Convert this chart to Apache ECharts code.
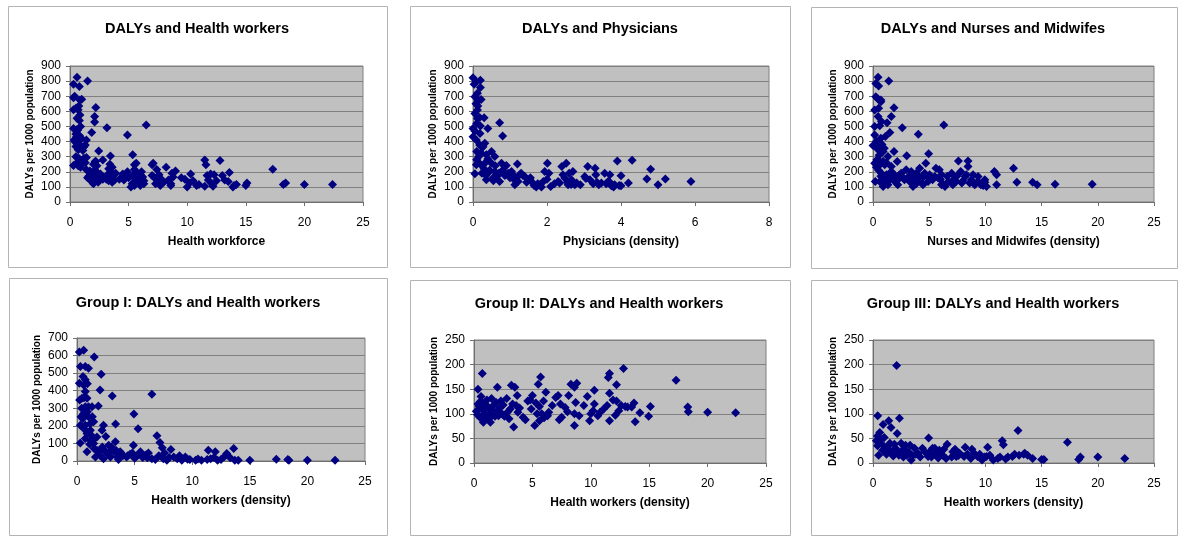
<!DOCTYPE html>
<html>
<head>
<meta charset="utf-8">
<script src="https://cdn.jsdelivr.net/npm/echarts@6/dist/echarts.min.js"></script>
<style>
html,body{margin:0;padding:0;background:#fff;}
#c{width:1200px;height:536px;}
</style>
</head>
<body>
<div id="c"></div>
<script>
// ---------- DATA ----------
const titles = [
  'DALYs and Health workers',
  'DALYs and Physicians',
  'DALYs and Nurses and Midwifes',
  'Group I: DALYs and Health workers',
  'Group II: DALYs and Health workers',
  'Group III: DALYs and Health workers'
];
const xNames = [
  'Health workforce',
  'Physicians (density)',
  'Nurses and Midwifes (density)',
  'Health workers (density)',
  'Health workers (density)',
  'Health workers (density)'
];
const yName = 'DALYs per 1000 population';
const xMaxes = [25, 8, 25, 25, 25, 25];
const xSteps = [5, 2, 5, 5, 5, 5];
const yMaxes = [900, 900, 900, 700, 250, 250];
const ySteps = [100, 100, 100, 100, 50, 50];

// DALYs (total) vs health workforce
const totalVsWorkforce = [
[0.3,780],[0.6,825],[0.8,765],[1.5,800],[0.4,700],[0.3,690],[0.85,675],[1.0,680],
[0.7,610],[0.3,610],[0.85,575],[0.6,555],[0.8,540],[0.5,620],[0.75,635],
[2.2,625],[2.1,565],[2.1,530],[3.15,492],[0.9,500],[0.3,487],[0.65,475],[1.85,460],
[4.9,443],[6.5,510],[0.55,430],[0.8,410],[0.35,410],[0.5,367],[1.0,367],[1.3,378],[1.4,410],[0.7,345],
[2.45,338],[5.35,312],[3.45,305],[0.3,242],[0.85,257],[0.75,290],[1.4,294],[1.05,278],
[2.15,268],[2.8,278],[1.4,213],[5.65,257],[5.5,246],[7.1,257],[7.0,246],[11.5,278],[11.6,246],[12.8,274],
[17.3,217],[13.6,195],[13.0,176],
[0.4,400],[0.5,450],[0.6,480],[0.7,380],[0.8,440],[0.9,360],[1.0,420],[1.1,340],[1.2,365],
[0.6,260],[0.7,240],[0.5,300],[1.0,250],[1.2,290],[0.9,230],[1.3,260],[2.0,250],[2.2,270],
[1.6,170],[1.7,150],[1.8,190],[1.9,130],[2.0,160],[2.1,140],[2.2,200],[2.3,175],[2.4,130],[2.5,155],
[1.7,205],[2.0,120],[2.3,240],[2.6,185],[2.7,165],[2.8,150],[1.5,160],[2.1,210],[2.4,190],
[3.0,165],[3.2,180],[3.3,140],[3.4,250],[3.5,200],[3.6,130],[3.7,175],[3.5,160],[3.3,220],[3.8,145],[3.1,150],[3.6,230],[3.9,190],
[4.2,150],[4.4,160],[4.6,145],[4.8,175],[4.9,200],[5.0,160],[4.5,185],[4.7,165],
[5.2,100],[5.3,120],[5.4,180],[5.5,110],[5.6,150],[5.7,195],[5.8,170],[5.9,130],[6.0,110],[6.1,200],[6.2,165],[6.3,140],[5.5,215],[6.0,180],[6.3,120],
[7.0,175],[7.2,160],[7.3,120],[7.4,215],[7.5,140],[7.6,180],[7.7,110],[7.8,150],[8.0,130],[8.2,230],[8.4,145],[8.6,110],[8.7,190],[8.8,165],[9.0,205],[8.6,120],
[9.5,160],[9.8,150],[10.0,100],[10.2,125],[10.3,185],[10.5,140],[10.8,110],[11.0,115],
[11.5,105],[11.7,175],[11.8,145],[12.0,185],[12.1,120],[12.3,180],[12.5,140],[12.2,105],[13.2,145],[13.5,135],
[13.9,100],[14.2,115],[14.0,110],[15.0,110],[15.1,125],
[18.2,115],[18.4,125],[20.0,115],[22.4,115]
];

// DALYs (total) vs physicians density
const totalVsPhysicians = [
[0,823],[0.09,795],[0.2,757],[0.05,696],[0.15,674],[0.22,678],[0.05,586],[0.12,608],[0.13,635],
[0.3,557],[0.12,553],[0.72,525],[0.4,487],[0.2,503],[0,487],[0.8,437],[0.19,454],
[0,432],[0.09,410],[0.18,377],[0.27,367],[0.32,388],[0.5,334],[0.1,334],[0.23,323],[0.36,312],[0.59,301],
[0.09,246],[0.32,257],[0.5,257],[0.77,257],[0.9,241],[1.2,252],
[0.24,191],[0.05,187],[0.4,191],[0.59,202],[0.7,191],[0.36,147],[0.54,158],[0.72,136],[0.86,176],
[1.04,202],[1.13,169],[1.22,136],[1.3,191],[1.4,169],[1.53,147],[1.62,125],[1.71,99],[1.8,114],[1.9,136],
[1.94,202],[2.01,257],[2.05,191],[2.1,103],[1.13,114],[1.26,180],
[2.34,125],[2.4,235],[2.43,180],[2.48,158],[2.52,257],[2.57,114],[2.66,147],[2.7,202],[2.75,114],[2.6,191],[2.9,114],
[3.02,169],[3.1,235],[3.16,147],[3.3,224],[3.32,180],[3.4,114],[3.47,125],[3.56,191],[3.65,136],[3.7,180],[3.74,107],[3.83,114],
[3.9,272],[4.0,173],[4.0,107],[4.2,125],[4.3,276],[4.7,152],[4.8,217],[5.0,114],[5.2,152],[5.89,136],
[0.1,280],[0.15,300],[0.2,250],[0.3,220],[0.45,210],[0.6,240],[0.65,170],[0.8,210],[0.95,190],[1.0,160],
[0.35,175],[0.55,140],[0.4,285],[0.25,360],[0.05,470],[0.1,520],[0.18,560],[0.08,650],[0.12,720],[0.03,780],[0.2,805],
[1.1,150],[1.35,175],[1.45,130],[1.55,160],[1.65,110],[1.75,120],[1.85,100],[2.0,150],[2.2,120],[2.3,135],
[2.55,130],[2.65,115],[2.8,125],[3.05,155],[3.25,120],[3.35,130],[3.6,120],[3.7,130],[3.8,100],[3.95,110]
];

// DALYs (total) vs nurses and midwifes density
const totalVsNurses = [
[0.45,825],[0.25,785],[0.5,767],[1.4,800],[0.25,697],[0.45,681],[0.7,675],
[0.15,609],[0.5,620],[0.7,664],[0.45,565],[0.75,532],[1.87,624],[1.63,565],[1.25,525],
[0.15,499],[0.6,505],[2.6,492],[1.5,460],[4.03,449],[6.3,510],
[0.15,444],[0.7,422],[1.1,433],[0.5,367],[0,374],[1.0,356],[0.9,334],
[1.87,334],[4.95,319],[3.0,306],[1.33,301],
[0.15,257],[0.45,279],[1.04,246],[1.63,235],[2.16,268],[4.7,257],[7.6,272],[8.45,272],[8.45,235],[12.5,224],[10.8,202],
[0.6,136],[1.04,136],[1.48,147],[1.93,136],[2.37,158],[2.8,147],[3.26,136],[3.56,103],[3.85,121],[4.15,147],[4.45,114],
[4.9,136],[5.3,147],[5.8,158],[6.1,114],[6.4,103],[6.7,136],[7.1,114],[7.4,136],[7.9,125],[8.2,169],[8.75,147],
[9.05,114],[9.35,136],[9.6,114],[10.1,103],[9.95,130],[11.0,114],
[0.75,191],[1.2,180],[1.63,202],[1.9,180],[2.5,191],[2.95,213],[3.4,202],[3.85,191],[4.15,224],[4.6,191],[5.04,180],
[5.5,169],[5.6,224],[5.9,213],[6.1,180],[7.0,191],[7.5,173],[7.8,202],[8.3,180],[8.9,180],[9.35,169],[9.95,147],
[0.2,136],[0.9,103],[1.33,114],[2.2,114],
[12.8,130],[14.2,130],[14.6,114],[16.2,118],[19.5,118],[11.0,180],
[0.3,400],[0.6,390],[0.8,380],[0.4,350],[0.55,310],[0.35,280],[0.65,250],[0.9,270],[1.2,260],[0.3,230],
[0.5,210],[0.7,170],[1.0,160],[1.3,150],[1.7,165],[2.0,150],[2.3,175],[2.7,160],[3.2,170],[3.6,160],[4.0,175],
[4.4,160],[4.8,170],[5.2,160],[6.0,150],[6.6,170],[7.2,150],[8.0,140],[8.6,125],[9.8,110],[6.2,120],[3.7,120]
];

// Group I DALYs vs health workers density
const group1 = [
[0.2,620],[0.58,630],[1.5,592],[0.3,538],[0.72,538],[1.0,528],
[2.1,494],[0.52,481],[0.72,462],[0.2,442],[0.58,433],
[2.0,404],[0.72,395],[0.43,357],[0.87,357],[0.23,347],[3.06,370],[6.5,380],
[1.85,313],[1.0,309],[1.3,309],[0.72,309],[0.35,252],[0.58,271],[1.0,252],[1.33,252],[4.94,267],
[0.29,204],[0.72,204],[1.16,214],[1.45,223],[2.3,204],[2.17,175],[3.35,210],[5.3,183],[1.16,175],[0.58,185],[0.87,156],
[0.29,103],[0.72,128],[1.16,118],[1.73,137],[1.45,99],[2.75,90],[3.33,109],[4.9,90],[6.94,143],[7.2,105],
[8.15,65],[7.4,76],[13.6,71],[11.4,61],[12.0,52],[13.0,42],
[0.87,52],[1.6,23],[1.73,61],[2.0,32],[2.3,13],[2.6,42],[2.9,23],[3.2,52],[3.5,23],[3.6,8],[3.75,52],[4.0,32],
[4.3,23],[4.6,38],[5.2,27],[5.5,52],[5.8,32],[6.1,19],[6.2,46],[6.5,13],[6.8,8],[7.5,13],[7.8,4],[8.4,23],
[8.7,13],[9.1,4],[9.4,23],[9.8,8],[10.3,4],[10.8,4],[11.3,8],[11.6,13],[12.2,4],[12.5,8],[13.3,19],[13.7,4],
[14.0,4],[15.0,4],[17.3,10],[18.3,8],[18.4,4],[20.0,4],[22.4,4],
[0.5,240],[0.9,280],[1.2,150],[1.5,70],[1.9,50],[2.4,60],[2.2,80],[2.8,50],[3.0,80],[3.4,60],[3.9,40],
[4.4,30],[4.8,45],[5.0,15],[5.7,20],[6.0,35],[7.1,30],[7.6,45],[8.0,20],[8.9,30],[9.6,10],[10.5,12],[11.9,20],[12.8,25],
[1.1,95],[1.4,120],[2.5,140],[0.4,300],[0.9,440],[0.6,360]
];

// Group II DALYs vs health workers density
const group2 = [
[0.71,182],[0.34,150],[2.0,154],[3.2,158],[3.5,154],[5.7,175],[5.5,160],[8.3,160],[8.8,162],[8.6,154],
[10.3,148],[11.5,174],[11.6,182],[12.2,159],[12.8,192],
[0.34,120],[0.63,110],[0.9,100],[0.5,93],[0.8,83],[1.2,113],[1.5,131],[1.6,97],[1.4,83],[2.0,106],[2.3,126],
[2.4,100],[2.8,131],[3.1,110],[3.4,73],[3.6,117],[3.7,137],[3.75,103],[4.2,93],[4.6,126],[4.9,110],[5.0,137],
[5.2,76],[5.4,100],[5.6,86],[5.8,100],[5.95,126],[6.15,144],[6.4,103],[6.7,117],[7.0,133],[7.2,137],[7.4,120],
[7.5,93],[7.8,113],[8.1,137],[8.7,123],[8.6,100],[8.6,76],[9.4,117],[9.7,135],[9.9,86],[10.3,120],[10.2,106],
[10.8,103],[11.1,110],[11.4,117],[11.6,142],[11.6,86],[12.1,97],[12.2,126],[12.6,117],[12.95,115],
[13.15,114],[13.5,114],[13.7,122],[13.8,84],[14.2,102],[14.95,95],[15.1,115],[17.3,168],[18.3,114],[18.35,104],
[20.0,103],[22.4,102],
[0.2,105],[0.3,98],[0.45,115],[0.55,125],[0.6,135],[0.7,95],[0.75,120],[0.85,108],[1.0,90],[1.05,118],[1.1,128],
[1.3,100],[1.35,92],[1.5,108],[1.7,118],[1.8,95],[1.9,123],[2.1,96],[2.2,112],[2.5,118],[2.6,95],[2.9,104],
[3.0,90],[3.3,120],[3.9,112],[4.4,88],[4.8,128],[5.3,122],[5.6,115],[6.0,92],[6.3,96],[7.3,88],[8.0,104],[9.0,96],
[10.0,100],[10.6,96],[11.9,128],[12.4,106]
];

// Group III DALYs vs health workers density
const group3 = [
[2.1,198],[0.42,96],[2.35,91],[1.4,86],[0.9,78],[1.6,72],[2.15,60],
[4.95,51],[12.9,66],[11.5,45],[11.6,37],[6.6,38],[8.2,32],[10.2,32],
[0.4,55],[0.7,48],[0.4,35],[0.85,26],[0.5,16],[1.3,33],[1.6,23],[2.0,30],[2.3,16],[2.6,26],[2.9,36],[3.0,16],
[3.4,6],[3.7,30],[4.0,20],[4.6,23],[4.9,13],[5.3,30],[5.6,20],[5.9,26],[6.2,16],[6.5,9],[7.1,23],[7.4,13],
[7.7,20],[8.1,13],[8.7,9],[9.0,20],[9.3,13],[9.7,6],[10.1,13],[10.7,6],[11.1,9],[11.8,8],[12.4,13],[13.0,16],
[13.4,18],[13.5,20],[13.75,16],[14.2,9],[15.0,7],[15.2,7],[17.3,42],[18.3,7],[18.45,12],[20.0,12],[22.4,9],
[0.3,45],[0.6,62],[0.8,38],[1.0,52],[1.1,28],[1.2,18],[1.5,40],[1.8,14],[1.9,38],[2.2,22],[2.5,40],[2.7,12],
[2.8,28],[3.2,22],[3.3,36],[3.5,14],[3.8,18],[4.2,12],[4.4,30],[5.0,22],[5.2,12],[5.5,30],[5.8,10],[6.0,22],
[6.3,28],[7.0,12],[7.3,28],[7.6,15],[8.4,18],[8.8,28],[9.5,18],[9.9,12],[10.4,16],[11.3,12],[12.0,12],[12.6,18]
];

const panelData = [totalVsWorkforce, totalVsPhysicians, totalVsNurses, group1, group2, group3];

// ---------- LAYOUT (px) ----------
const boxes = [[8,6,379,261],[410,6,380,261],[811,7,366,261],[9,278,378,257],[410,280,380,255],[811,280,366,255]];
const grids = [[70,66,293,136],[473,66,296,136],[873,66,281,136],[77,338,288,123],[474,340,292,123],[873,340,281,123]];
const titlePos = [[197,21],[600,21],[993,21],[198,295],[599,296],[993,296]];

const FONT = '"Liberation Sans", Arial, sans-serif';
const chart = echarts.init(document.getElementById('c'), null, {renderer:'canvas'});

const option = {
  backgroundColor:'#ffffff',
  animation:false,
  title:[], grid:[], xAxis:[], yAxis:[], series:[],
  graphic: boxes.map(b => ({
    type:'rect', shape:{x:b[0]+0.5,y:b[1]+0.5,width:b[2],height:b[3]},
    style:{fill:'#ffffff', stroke:'#b4b4b4', lineWidth:1}, z:-10, silent:true
  }))
};

for (let i = 0; i < 6; i++) {
  const g = grids[i];
  option.title.push({
    text: titles[i], left: titlePos[i][0], top: titlePos[i][1], textAlign:'center', padding:0,
    textStyle:{fontFamily:FONT, fontSize:14.5, fontWeight:'bold', color:'#000'}
  });
  option.grid.push({
    left:g[0], top:g[1], width:g[2], height:g[3], show:true,
    backgroundColor:'#c0c0c0', borderColor:'#808080', borderWidth:1
  });
  option.xAxis.push({
    type:'value', gridIndex:i, min:0, max:xMaxes[i], interval:xSteps[i],
    name:xNames[i], nameLocation:'middle', nameGap:34,
    nameTextStyle:{fontFamily:FONT, fontSize:12, fontWeight:'bold', color:'#000'},
    axisLine:{show:true, onZero:false, lineStyle:{color:'#6e6e6e', width:1}},
    axisTick:{show:true, inside:false, length:4, lineStyle:{color:'#6e6e6e'}},
    axisLabel:{fontFamily:FONT, fontSize:12, color:'#000', margin:15},
    splitLine:{show:false}
  });
  option.yAxis.push({
    type:'value', gridIndex:i, min:0, max:yMaxes[i], interval:ySteps[i],
    name:yName, nameLocation:'middle', nameGap:35, nameRotate:90,
    nameTextStyle:{fontFamily:FONT, fontSize:10, fontWeight:'bold', color:'#000'},
    axisLine:{show:true, onZero:false, lineStyle:{color:'#6e6e6e', width:1}},
    axisTick:{show:true, inside:false, length:4, lineStyle:{color:'#6e6e6e'}},
    axisLabel:{fontFamily:FONT, fontSize:12, color:'#000', margin:9},
    splitLine:{show:true, lineStyle:{color:'#808080', width:1}}
  });
  option.series.push({
    type:'scatter', xAxisIndex:i, yAxisIndex:i, data:panelData[i],
    symbol:'diamond', symbolSize:[9,9],
    itemStyle:{color:'#000080', opacity:1}
  });
}

chart.setOption(option);
</script>
</body>
</html>
